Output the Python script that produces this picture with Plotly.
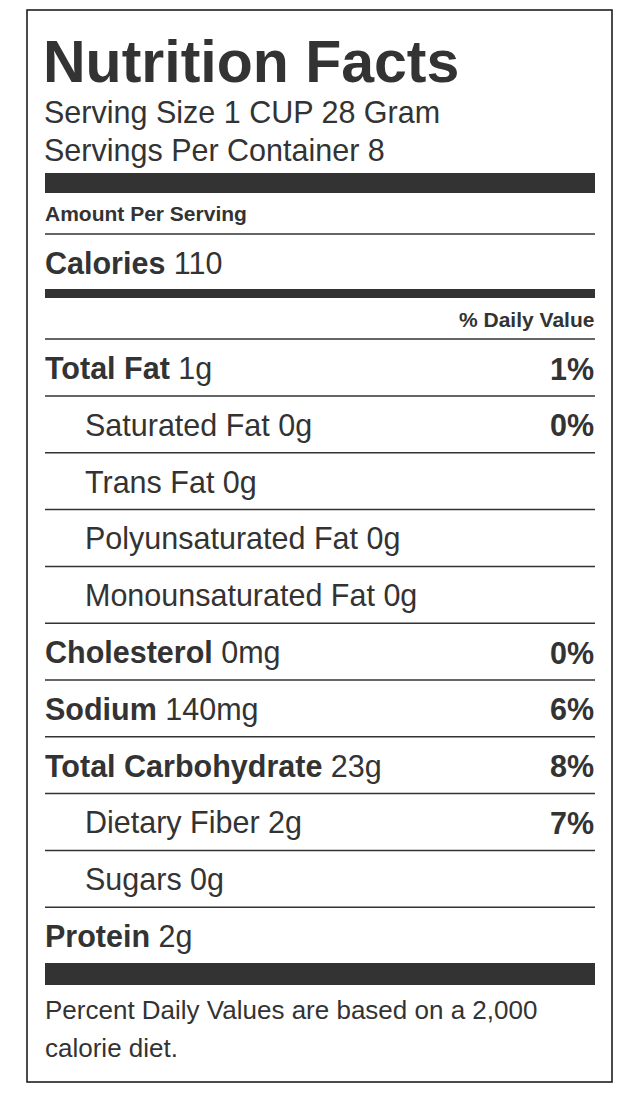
import plotly.graph_objects as go

title = "Nutrition Facts"
serving_lines = ["Serving Size 1 CUP 28 Gram", "Servings Per Container 8"]
calories = 110
nutrients = ["Total Fat", "Saturated Fat", "Trans Fat", "Polyunsaturated Fat",
             "Monounsaturated Fat", "Cholesterol", "Sodium", "Total Carbohydrate",
             "Dietary Fiber", "Sugars", "Protein"]
amounts = ["1g", "0g", "0g", "0g", "0g", "0mg", "140mg", "23g", "2g", "0g", "2g"]
daily = ["1%", "0%", None, None, None, "0%", "6%", "8%", "7%", None, None]
indented = [False, True, True, True, True, False, False, False, True, True, False]
footer = ["Percent Daily Values are based on a 2,000", "calorie diet."]

C = "#333333"
F = "Liberation Sans, Arial, Helvetica, sans-serif"
L, R = 45, 595
fig = go.Figure()
shapes = []
ann = []

def text(x, y, t, size, anchor="left"):
    ann.append(dict(x=x, y=y, text=t, showarrow=False, xanchor=anchor, yanchor="middle",
                    font=dict(family=F, size=size, color=C)))

def hline(y, w=1.5):
    shapes.append(dict(type="line", x0=L, x1=R, y0=y, y1=y, line=dict(color=C, width=w)))

def bar(y0, y1):
    shapes.append(dict(type="rect", x0=L, x1=R, y0=y0, y1=y1, fillcolor=C, line=dict(width=0)))

shapes.append(dict(type="rect", x0=27, x1=612, y0=10, y1=1082, line=dict(color="#111", width=1.5)))
text(L - 4, 62, f"<b>{title}</b>", 59)
for i, s in enumerate(serving_lines):
    text(L - 3, 112 + 38 * i, s, 30.5)
bar(173, 193)
text(L - 2, 213, "<b>Amount Per Serving</b>", 21)
hline(234)
text(L - 2, 263, f"<b>Calories</b> {calories}", 30.5)
bar(289, 298)
text(R + 1, 319, "<b>% Daily Value</b>", 21, "right")
hline(339)
y0, step = 368.5, 56.8
for i, (n, a, d, ind) in enumerate(zip(nutrients, amounts, daily, indented)):
    y = y0 + step * i
    if ind:
        text(L + 38, y, f"{n} {a}", 30.5)
    else:
        text(L - 2, y, f"<b>{n}</b> {a}", 30.5)
    if d:
        text(R + 1, y, f"<b>{d}</b>", 30.5, "right")
    if i < len(nutrients) - 1:
        hline(y + 27.5)
bar(963, 985)
for i, s in enumerate(footer):
    text(L - 2, 1010 + 38 * i, s, 26)

fig.update_layout(width=642, height=1120, margin=dict(l=0, r=0, t=0, b=0),
                  paper_bgcolor="white", plot_bgcolor="white",
                  xaxis=dict(range=[8, 650], visible=False, fixedrange=True),
                  yaxis=dict(range=[1128, 8], visible=False, fixedrange=True),
                  shapes=shapes, annotations=ann, showlegend=False)
fig.write_html("out.html")
